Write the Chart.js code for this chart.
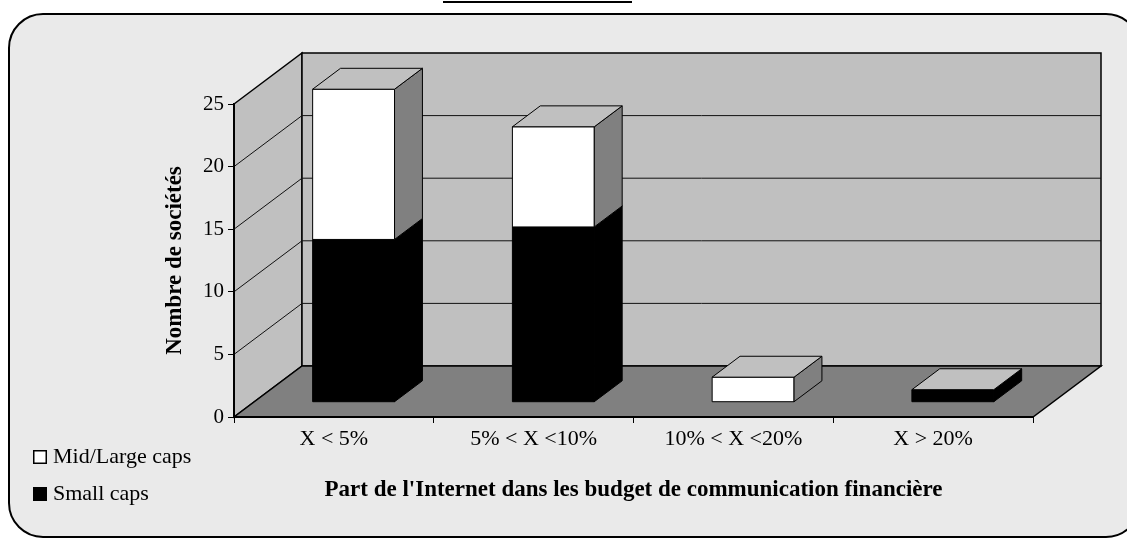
<!DOCTYPE html>
<html>
<head>
<meta charset="utf-8">
<style>
  html, body { margin: 0; padding: 0; background: #fff; }
  #wrap { width: 1127px; height: 538px; }
</style>
<script src="https://cdn.jsdelivr.net/npm/chart.js@4.4.1/dist/chart.umd.min.js"></script>
</head>
<body>
<div id="wrap"><canvas id="chart" width="1127" height="538"></canvas></div>
<script>
  var categories = ["X < 5%", "5% < X <10%", "10% < X <20%", "X > 20%"];
  var smallCaps = [13, 14, 0, 1];
  var midLargeCaps = [12, 8, 2, 0];
  var yMax = 25;
  var yStep = 5;

  // depth of the 3D box (px) and where the bars sit inside it
  var DX = 68, DY = -51;
  var BAR_FRONT = 0.29, BAR_DEPTH = 0.41;
  var FONT = "'Liberation Serif', 'Times New Roman', serif";

  function poly(ctx, pts, fill, stroke, lw) {
    ctx.beginPath();
    ctx.moveTo(pts[0][0], pts[0][1]);
    for (var i = 1; i < pts.length; i++) ctx.lineTo(pts[i][0], pts[i][1]);
    ctx.closePath();
    if (fill) { ctx.fillStyle = fill; ctx.fill(); }
    if (stroke) { ctx.strokeStyle = stroke; ctx.lineWidth = lw || 1; ctx.stroke(); }
  }

  function roundRect(ctx, x, y, w, h, r) {
    ctx.beginPath();
    ctx.moveTo(x + r, y);
    ctx.lineTo(x + w - r, y);
    ctx.arcTo(x + w, y, x + w, y + r, r);
    ctx.lineTo(x + w, y + h - r);
    ctx.arcTo(x + w, y + h, x + w - r, y + h, r);
    ctx.lineTo(x + r, y + h);
    ctx.arcTo(x, y + h, x, y + h - r, r);
    ctx.lineTo(x, y + r);
    ctx.arcTo(x, y, x + r, y, r);
    ctx.closePath();
  }

  var box3d = {
    id: "box3d",
    beforeDraw: function (chart) {
      var ctx = chart.ctx, a = chart.chartArea, ys = chart.scales.y;
      ctx.save();
      ctx.fillStyle = "#fff";
      ctx.fillRect(0, 0, chart.width, chart.height);

      roundRect(ctx, 9, 14, 1131, 523, 34);
      ctx.fillStyle = "#eaeaea";
      ctx.fill();
      ctx.lineWidth = 2;
      ctx.strokeStyle = "#000";
      ctx.stroke();

      // underline of the title cut off above the picture
      ctx.beginPath();
      ctx.moveTo(443, 2);
      ctx.lineTo(632, 2);
      ctx.lineWidth = 2;
      ctx.stroke();

      var L = a.left, R = a.right, T = a.top, B = a.bottom;
      // side wall, back wall
      poly(ctx, [[L, T], [L + DX, T + DY], [L + DX, B + DY], [L, B]], "#c0c0c0", "#000", 1.5);
      poly(ctx, [[L + DX, T + DY], [R + DX, T + DY], [R + DX, B + DY], [L + DX, B + DY]], "#c0c0c0", "#000", 1.5);

      // grid lines on the walls
      ctx.strokeStyle = "#111";
      ctx.lineWidth = 1;
      ys.ticks.forEach(function (t) {
        if (t.value <= 0 || t.value >= yMax) return;
        var py = ys.getPixelForValue(t.value);
        ctx.beginPath();
        ctx.moveTo(L, py);
        ctx.lineTo(L + DX, py + DY);
        ctx.lineTo(R + DX, py + DY);
        ctx.stroke();
      });

      // floor
      poly(ctx, [[L, B], [R, B], [R + DX, B + DY], [L + DX, B + DY]], "#808080", "#000", 1.5);
      ctx.restore();
    },
    beforeDatasetsDraw: function (chart) {
      var ctx = chart.ctx;
      var fx = DX * BAR_FRONT, fy = DY * BAR_FRONT;
      var bx = DX * BAR_DEPTH, by = DY * BAR_DEPTH;
      ctx.save();
      chart.data.datasets.forEach(function (ds, di) {
        var meta = chart.getDatasetMeta(di);
        meta.data.forEach(function (bar, i) {
          if (!ds.data[i]) return;
          var p = bar.getProps(["x", "y", "base", "width"], true);
          var x0 = p.x - p.width / 2 + fx, x1 = p.x + p.width / 2 + fx;
          var yt = p.y + fy, yb = p.base + fy;
          poly(ctx, [[x0, yb], [x1, yb], [x1, yt], [x0, yt]], ds.backgroundColor, "#000", 1);
          poly(ctx, [[x1, yb], [x1 + bx, yb + by], [x1 + bx, yt + by], [x1, yt]], ds.sideColor, "#000", 1);
          poly(ctx, [[x0, yt], [x1, yt], [x1 + bx, yt + by], [x0 + bx, yt + by]], ds.topColor, "#000", 1);
        });
      });
      ctx.restore();
      return false;
    },
    afterDraw: function (chart) {
      var ctx = chart.ctx;
      ctx.save();
      ctx.font = "22px " + FONT;
      ctx.textBaseline = "alphabetic";
      [1, 0].forEach(function (di, r) {
        var ds = chart.data.datasets[di];
        var top = 450 + r * 37;
        ctx.fillStyle = ds.backgroundColor;
        ctx.fillRect(33, top, 14, 14);
        ctx.strokeStyle = "#000";
        ctx.lineWidth = 1.5;
        ctx.strokeRect(33.75, top + 0.75, 12.5, 12.5);
        ctx.fillStyle = "#000";
        ctx.fillText(ds.label, 53, top + 13);
      });
      ctx.restore();
    }
  };

  Chart.defaults.font.family = FONT;
  Chart.defaults.font.size = 22;
  Chart.defaults.color = "#000";

  new Chart(document.getElementById("chart"), {
    type: "bar",
    data: {
      labels: categories,
      datasets: [
        {
          label: "Small caps",
          data: smallCaps,
          backgroundColor: "#000000",
          sideColor: "#000000",
          topColor: "#c0c0c0",
          categoryPercentage: 1,
          barPercentage: 0.41
        },
        {
          label: "Mid/Large caps",
          data: midLargeCaps,
          backgroundColor: "#ffffff",
          sideColor: "#808080",
          topColor: "#c0c0c0",
          categoryPercentage: 1,
          barPercentage: 0.41
        }
      ]
    },
    options: {
      responsive: false,
      animation: false,
      layout: { padding: { top: 104, right: 94, left: 148, bottom: 20 } },
      plugins: { legend: { display: false }, tooltip: { enabled: false } },
      scales: {
        x: {
          stacked: true,
          grid: { offset: true, drawOnChartArea: false, tickLength: 6, color: "#000" },
          border: { color: "#000", width: 2 },
          ticks: { padding: 3, maxRotation: 0, autoSkip: false },
          title: {
            display: true,
            text: "Part de l'Internet dans les budget de communication financière",
            font: { size: 23, weight: "bold" },
            padding: { top: 0, bottom: 14 }
          },
          afterFit: function (s) { s.height = 101; }
        },
        y: {
          stacked: true,
          min: 0,
          max: yMax,
          grid: { drawOnChartArea: false, tickLength: 6, color: "#000" },
          border: { color: "#000", width: 2 },
          ticks: { stepSize: yStep, padding: 4, font: { size: 21 } },
          title: {
            display: true,
            text: "Nombre de sociétés",
            font: { size: 23, weight: "bold" },
            padding: { top: 13, bottom: 0 }
          },
          afterFit: function (s) { s.width = 86; }
        }
      }
    },
    plugins: [box3d]
  });
</script>
</body>
</html>
